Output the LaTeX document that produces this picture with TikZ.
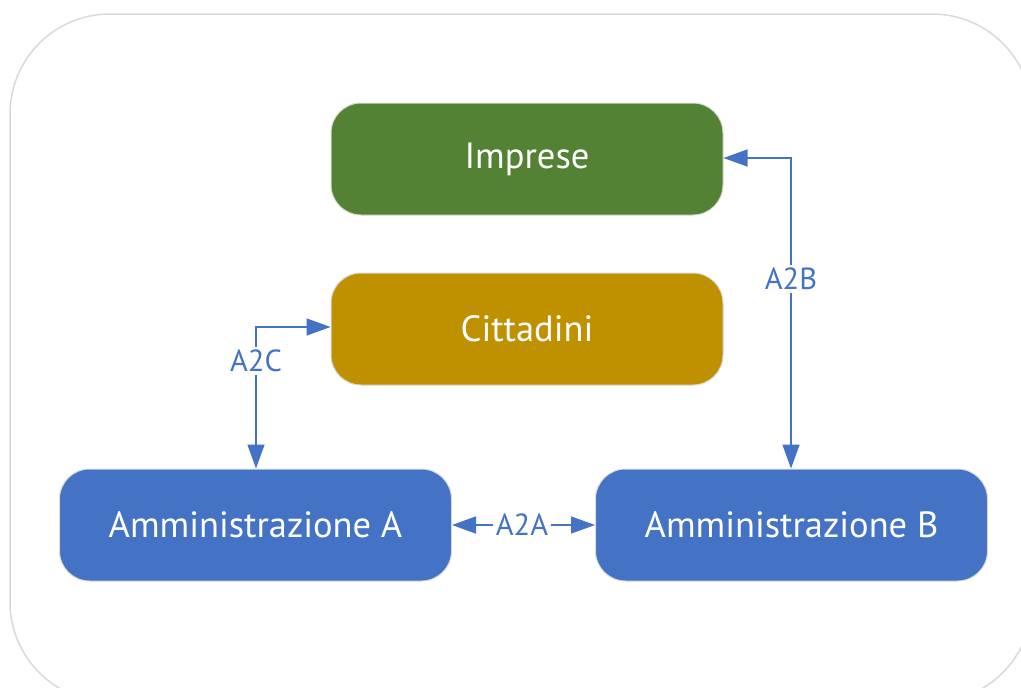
\documentclass[tikz,border=0pt]{standalone}
\usepackage{fontspec}
\setmainfont{PT Sans}
\usetikzlibrary{arrows.meta}
\definecolor{gr}{HTML}{548235}
\definecolor{gd}{HTML}{BF9000}
\definecolor{bl}{HTML}{4472C4}
\definecolor{fr}{HTML}{D9D9D9}
\tikzset{
  box/.style={rounded corners=30pt, minimum width=392pt, minimum height=112pt, draw=fr, line width=1pt, text=white, font=\fontsize{36.5}{42}\selectfont, inner sep=0pt},
  link/.style={draw=bl, line width=1.5pt, {Triangle[length=24pt,width=17pt]}-{Triangle[length=24pt,width=17pt]}},
  lab/.style={fill=white, text=bl, font=\fontsize{30.5}{34}\selectfont, inner sep=3pt}
}
\begin{document}
\begin{tikzpicture}[x=1pt,y=-1pt]
\useasboundingbox (0,0) rectangle (1021,688);
\draw[fr, line width=1.5pt, rounded corners=100pt] (10,14) rectangle (1032,702);
\node[box, fill=gr] (imp) at (527,159) {Imprese};
\node[box, fill=gd] (cit) at (527,329) {Cittadini};
\node[box, fill=bl] (ama) at (255.5,525) {Amministrazione A};
\node[box, fill=bl] (amb) at (791.5,525) {Amministrazione B};
\coordinate (c1) at (256,327);
\coordinate (c2) at (791,158);
\draw[link] (ama.north -| c1) -- (c1) -- (cit.west |- c1);
\draw[link] (imp.east |- c2) -- (c2) -- (amb.north -| c2);
\draw[link] (ama.east) -- (amb.west);
\node[lab] (l1) at (256,361) {A2C};
\node[lab] (l2) at (791,279) {A2B};
\node[lab] (l3) at (522,525) {A2A};
\end{tikzpicture}
\end{document}
